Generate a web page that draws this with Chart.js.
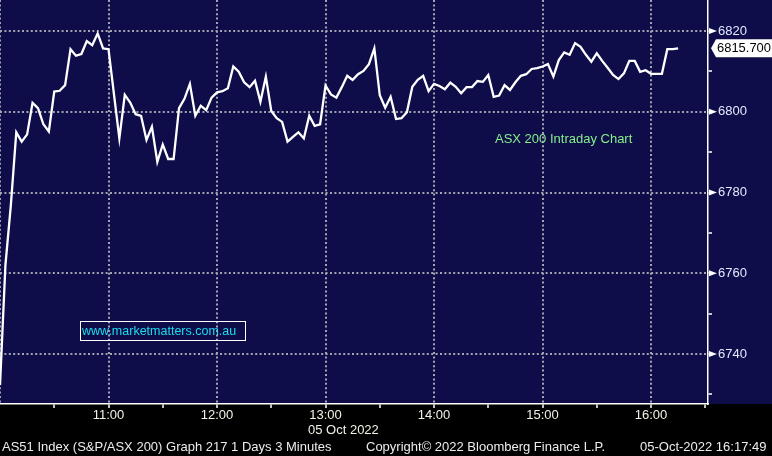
<!DOCTYPE html>
<html>
<head>
<meta charset="utf-8">
<script src="https://cdn.jsdelivr.net/npm/chart.js@4"></script>
<style>
  html, body { margin: 0; padding: 0; background: #000; }
  canvas { display: block; }
</style>
</head>
<body>
<canvas id="myChart" width="772" height="456"></canvas>
<script>
// AS51 3 minute closes from 10:00
var closes = [
  6732.3, 6762.0, 6776.9, 6794.9, 6792.6, 6794.4, 6802.2, 6800.9, 6796.9, 6795.1,
  6805.0, 6805.2, 6806.6, 6815.5, 6813.9, 6814.3, 6817.5, 6816.5, 6819.4, 6815.7,
  6815.5, 6804.4, 6793.4, 6804.2, 6802.3, 6799.4, 6799.0, 6793.0, 6796.3, 6787.6,
  6791.9, 6788.3, 6788.3, 6800.9, 6803.2, 6806.9, 6799.0, 6801.5, 6800.4, 6803.5,
  6804.8, 6805.1, 6805.8, 6811.2, 6809.9, 6807.3, 6806.1, 6807.7, 6802.5, 6808.7,
  6800.2, 6798.4, 6797.5, 6792.6, 6793.8, 6794.9, 6793.4, 6799.0, 6796.5, 6796.9,
  6806.5, 6804.3, 6803.5, 6806.1, 6808.9, 6807.9, 6809.3, 6810.1, 6811.8, 6815.7,
  6804.1, 6801.0, 6803.7, 6798.2, 6798.4, 6799.9, 6806.2, 6807.9, 6808.9, 6805.1,
  6806.9, 6806.4, 6805.6, 6807.2, 6806.2, 6804.6, 6806.1, 6806.1, 6807.6, 6807.4,
  6809.1, 6803.7, 6804.0, 6806.6, 6805.4, 6807.3, 6808.9, 6809.3, 6810.6, 6810.8,
  6811.2, 6811.8, 6808.7, 6812.8, 6814.7, 6814.1, 6817.0, 6816.1, 6814.1, 6812.4,
  6814.5, 6812.6, 6810.9, 6809.1, 6808.1, 6809.5, 6812.6, 6812.6, 6809.9, 6810.3,
  6809.4, 6809.4, 6809.4, 6815.5, 6815.5, 6815.7
];
var barMinutes = 3; // minutes after 10:00 per bar

var hourMinutes = [60, 120, 180, 240, 300, 360];
var hourLabels = ["11:00", "12:00", "13:00", "14:00", "15:00", "16:00"];
var halfHourMinutes = [30, 90, 150, 210, 270, 330, 390];

var yLabels = [6740, 6760, 6780, 6800, 6820];
var yMinorTicks = [6730, 6750, 6770, 6790, 6810];

var lastLabel = "6815.700";
var dateLabel = "05 Oct 2022";
var footerLeft = "AS51 Index (S&P/ASX 200) Graph 217 1 Days 3 Minutes";
var footerMid = "Copyright\u00a9 2022 Bloomberg Finance L.P.";
var footerRight = "05-Oct-2022 16:17:49";

var FONT = "'Liberation Sans', Arial, sans-serif";
var NAVY = "#0e0c49";
var GRID = "#a4a3b0";

var points = [];
for (var i = 0; i < closes.length; i++) {
  points.push({ x: i * barMinutes, y: closes[i] });
}

function noPad(s) {
  s.paddingTop = 0;
  s.paddingBottom = 0;
  s.paddingLeft = 0;
  s.paddingRight = 0;
}

var bgPlugin = {
  id: "bg",
  beforeDraw: function (chart) {
    var c = chart.ctx;
    c.save();
    c.fillStyle = NAVY;
    c.fillRect(0, 0, chart.width, chart.height);
    c.fillStyle = "#000";
    c.fillRect(0, chart.chartArea.bottom, chart.width, chart.height - chart.chartArea.bottom);
    c.restore();
  }
};

var overlayPlugin = {
  id: "overlay",
  afterDraw: function (chart) {
    var c = chart.ctx;
    var ys = chart.scales.y;
    var right = chart.chartArea.right;
    c.save();

    // arrows on the major y ticks
    c.fillStyle = "#ffffff";
    yLabels.forEach(function (v) {
      var py = ys.getPixelForValue(v);
      c.beginPath();
      c.moveTo(right + 1, py - 3);
      c.lineTo(right + 9, py);
      c.lineTo(right + 1, py + 3);
      c.closePath();
      c.fill();
    });

    // last price tag
    var ly = ys.getPixelForValue(closes[closes.length - 1]);
    c.beginPath();
    c.moveTo(right + 3, ly);
    c.lineTo(right + 8, ly - 9);
    c.lineTo(chart.width, ly - 9);
    c.lineTo(chart.width, ly + 9);
    c.lineTo(right + 8, ly + 9);
    c.closePath();
    c.fill();
    c.fillStyle = "#000";
    c.font = "13px " + FONT;
    c.textBaseline = "middle";
    c.textAlign = "left";
    c.fillText(lastLabel, right + 9, ly + 0.5, chart.width - right - 10);

    // chart name
    c.fillStyle = "#86ee8c";
    c.fillText("ASX 200 Intraday Chart", 495, 139);

    // watermark
    c.strokeStyle = "#ffffff";
    c.lineWidth = 1;
    c.strokeRect(80.5, 321.5, 165, 19);
    c.fillStyle = "#1ddcee";
    c.font = "12.5px " + FONT;
    c.fillText("www.marketmatters.com.au", 82, 331.5, 162);

    // date under 13:00
    c.fillStyle = "#f2f2e6";
    c.font = "13px " + FONT;
    c.fillText(dateLabel, 308, 430.5);

    // footer
    c.fillStyle = "#ececec";
    c.fillText(footerLeft, 2, 447.5, 331);
    c.fillText(footerMid, 366, 447.5, 262);
    c.fillText(footerRight, 640, 447.5, 130);
    c.restore();
  }
};

var config = {
  type: "line",
  data: {
    datasets: [{
      data: points,
      borderColor: "#ffffff",
      borderWidth: 2.3,
      pointRadius: 0,
      tension: 0,
      fill: false
    }]
  },
  options: {
    responsive: false,
    animation: false,
    layout: { padding: 0 },
    plugins: {
      legend: { display: false },
      tooltip: { enabled: false }
    },
    scales: {
      x: {
        type: "linear",
        min: 0,
        max: 391.5,
        afterFit: function (s) { s.height = 52; noPad(s); },
        afterBuildTicks: function (s) {
          var t = hourMinutes.concat(halfHourMinutes).sort(function (a, b) { return a - b; });
          s.ticks = [{ value: 0 }].concat(t.map(function (v) { return { value: v }; }));
        },
        ticks: {
          autoSkip: false,
          maxRotation: 0,
          padding: 0,
          color: "#f2f2e6",
          font: { family: FONT, size: 13 },
          callback: function (v) {
            var k = hourMinutes.indexOf(v);
            return k >= 0 ? hourLabels[k] : "";
          }
        },
        grid: {
          color: function (ctx) {
            return ctx.tick && ctx.tick.value % 60 === 0 ? GRID : "transparent";
          },
          lineWidth: 2,
          tickColor: function (ctx) {
            return ctx.tick && ctx.tick.value === 0 ? "transparent" : "#ffffff";
          },
          tickLength: 4,
          tickWidth: 1.5,
          tickBorderDash: []
        },
        border: { color: "#ffffff", width: 1.5, dash: [2, 2.4] }
      },
      y: {
        position: "right",
        min: 6727.62,
        max: 6827.68,
        afterFit: function (s) { s.width = 64; noPad(s); },
        afterBuildTicks: function (s) {
          var t = yLabels.concat(yMinorTicks).sort(function (a, b) { return a - b; });
          s.ticks = t.map(function (v) { return { value: v }; });
        },
        ticks: {
          padding: 6,
          color: "#e2eaff",
          font: { family: FONT, size: 13 },
          callback: function (v) {
            return yLabels.indexOf(v) >= 0 ? String(v) : "";
          }
        },
        grid: {
          color: function (ctx) {
            return ctx.tick && yLabels.indexOf(ctx.tick.value) >= 0 ? GRID : "transparent";
          },
          lineWidth: 2,
          tickColor: "#ffffff",
          tickLength: 4,
          tickWidth: 1.5,
          tickBorderDash: []
        },
        border: { color: "#ffffff", width: 1.5, dash: [2, 2.4] }
      }
    }
  },
  plugins: [bgPlugin, overlayPlugin]
};

var myChart = new Chart(document.getElementById("myChart"), config);
</script>
</body>
</html>
